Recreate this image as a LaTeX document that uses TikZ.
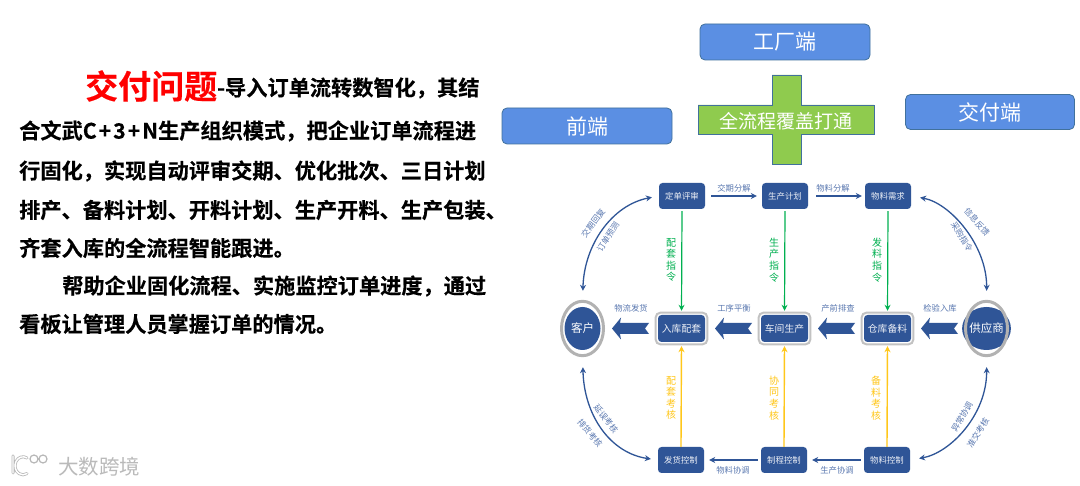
\documentclass[tikz,border=0pt]{standalone}
\usepackage{fontspec}
\setmainfont{Noto Sans CJK SC}
\newfontfamily\cjkb[FakeBold=0.35]{Noto Sans CJK SC Bold}
\usetikzlibrary{arrows.meta,shapes.geometric}
\definecolor{navy}{HTML}{2F5597}
\definecolor{topblue}{HTML}{5B8FE3}
\definecolor{topedge}{HTML}{41719C}
\definecolor{crossg}{HTML}{8FCB4E}
\definecolor{labblue}{HTML}{5A78B0}
\definecolor{ggreen}{HTML}{00B050}
\definecolor{yyellow}{HTML}{FFC71A}
\tikzset{
  para/.style={anchor=west,inner sep=0pt,font=\cjkb\fontsize{21.2}{21.2}\selectfont,text=black},
  topbox/.style={draw=topedge,line width=.8pt,fill=topblue,rounded corners=5pt,text=white,font=\fontsize{21}{21}\selectfont,inner sep=0pt},
  stepbox/.style={fill=navy,rounded corners=3.5pt,minimum width=46pt,minimum height=26pt,inner sep=0pt,text=white!92!navy,font=\fontsize{8.4}{8.4}\selectfont},
  framed/.style={stepbox,minimum width=47pt,minimum height=27pt,font=\fontsize{9.8}{9.8}\selectfont},
  frameline/.style={draw=black!24,line width=2pt,rounded corners=5pt},
  endcirc/.style={ellipse,fill=navy,minimum width=36pt,minimum height=43pt,inner sep=0pt,text=white,font=\fontsize{11.5}{11.5}\selectfont},
  ringline/.style={draw=black!30,line width=3pt},
  flow/.style={navy,line width=1.3pt,-{Stealth[length=6pt,width=6pt]}},
  curve/.style={navy,line width=1.3pt,{Stealth[length=6pt,width=6pt]}-{Stealth[length=6pt,width=6pt]}},
  grn/.style={ggreen,line width=1.2pt,-{Stealth[length=6pt,width=6pt]}},
  ylw/.style={yyellow,line width=1.4pt,-{Stealth[length=6pt,width=6pt]}},
  lab/.style={inner sep=0pt,text=labblue,font=\fontsize{8.3}{8.3}\selectfont},
  vlab/.style={inner sep=0pt,align=center,font=\fontsize{10}{11.6}\selectfont},
  blockarr/.style={fill=navy,draw=none},
}
\newcommand{\blockat}[2]{\fill[blockarr] (#1,#2) -- ++(9,-11) -- ++(-1,5.5) -- ++(29,0) -- ++(-4,5.5) -- ++(4,5.5) -- ++(-29,0) -- ++(1,5.5) -- cycle;}
\newcommand{\frameit}[1]{\draw[frameline] ([shift={(-2.2,-2.2)}]#1.north west) rectangle ([shift={(2.2,2.2)}]#1.south east);}
\newcommand{\ringit}[1]{\draw[ringline] (#1) ellipse [x radius=21,y radius=27.2];}
\begin{document}
\begin{tikzpicture}[x=1pt,y=-1pt]
\useasboundingbox (0,0) rectangle (1080,486);
\fill[white] (0,0) rectangle (1080,486);
% left text
\node[para,font=\cjkb\fontsize{33}{33}\selectfont,text=red] (t0) at (85,86) {交付问题};
\node[para] (t1) at (217,88) {-导入订单流转数智化，其结};
\node[para] (t2) at (19,131) {合文武C\kern2pt+\kern2pt3\kern2pt+\kern2pt N生产组织模式，把企业订单流程进};
\node[para] (t3) at (19,171) {行固化，实现自动评审交期、优化批次、三日计划};
\node[para] (t4) at (19,210) {排产、备料计划、开料计划、生产开料、生产包装、};
\node[para] (t5) at (19,248) {齐套入库的全流程智能跟进。};
\node[para] (t6) at (62,286) {帮助企业固化流程、实施监控订单进度，通过};
\node[para] (t7) at (19,324) {看板让管理人员掌握订单的情况。};
% watermark
\node[inner sep=0pt,text=black!27,font=\fontsize{20.5}{20.5}\selectfont] (wm) at (99,467) {大数跨境};
\draw[white,double=white,draw=black!28,line width=.8pt,double distance=1.4pt,line cap=round] (13,456) -- (13,473) (27,458) arc (60:300:8pt and 9pt);
\draw[black!28,line width=1.2pt] (34,459) circle (4pt) (43,459) circle (4pt);
% top boxes
\node[topbox,minimum width=170pt,minimum height=36pt] (gc) at (785,42) {工厂端};
\node[topbox,minimum width=170pt,minimum height=36pt] (qd) at (587,126) {前端};
\node[topbox,minimum width=169pt,minimum height=35pt] (jf) at (990,112) {交付端};
\draw[draw=topedge,line width=.9pt,fill=crossg] (772,75) -- (801,75) -- (801,105) -- (874,105) -- (874,134) -- (801,134) -- (801,164) -- (772,164) -- (772,134) -- (698,134) -- (698,105) -- (772,105) -- cycle;
\node[inner sep=0pt,text=white,font=\fontsize{19}{19}\selectfont] (qlc) at (786,121) {全流程覆盖打通};
% step nodes
\node[stepbox] (a1) at (682,196) {定单评审};
\node[stepbox] (a2) at (785,196) {生产计划};
\node[stepbox] (a3) at (888,196) {物料需求};
\node[framed] (b1) at (681.5,328.5) {入库配套};
\node[framed] (b2) at (784.5,328.5) {车间生产};
\node[framed] (b3) at (887.5,328.5) {仓库备料};
\node[stepbox] (c1) at (681,460) {发货控制};
\node[stepbox] (c2) at (784,460) {制程控制};
\node[stepbox] (c3) at (887,460) {物料控制};
\node[endcirc] (kh) at (582.5,328.5) {客户};
\node[endcirc] (gys) at (986.5,328.5) {供应商};
\frameit{b1}\frameit{b2}\frameit{b3}
\ringit{kh}\ringit{gys}
% block arrows
\blockat{612}{328.5}
\blockat{715}{328.5}
\blockat{818}{328.5}
\blockat{921}{328.5}
% flow
\draw[flow,shorten <=6pt,shorten >=5pt] (a1.east) -- (a2.west);
\draw[flow,shorten <=8pt,shorten >=3pt] (a2.east) -- (a3.west);
\draw[flow,shorten <=3pt,shorten >=5pt] (c2.west) -- (c1.east);
\draw[flow,shorten <=3pt,shorten >=5pt] (c3.west) -- (c2.east);
\draw[grn,shorten <=2pt,shorten >=4pt] (a1.south) -- (b1.north);
\draw[grn,shorten <=2pt,shorten >=4pt] (a2.south) -- (b2.north);
\draw[grn,shorten <=2pt,shorten >=4pt] (a3.south) -- (b3.north);
\draw[ylw,shorten <=0pt,shorten >=4pt] (c1.north) -- (b1.south);
\draw[ylw,shorten <=0pt,shorten >=4pt] (c2.north) -- (b2.south);
\draw[ylw,shorten <=0pt,shorten >=4pt] (c3.north) -- (b3.south);
% curves
\draw[curve,shorten <=16pt,shorten >=7pt] (kh.north) .. controls (584,245) and (612,205) .. (a1.west);
\draw[curve,shorten <=9pt,shorten >=16pt] (a3.east) .. controls (950,203) and (987,245) .. (gys.north);
\draw[curve,shorten <=17pt,shorten >=7pt] (kh.south) .. controls (584,415) and (610,453) .. (c1.west);
\draw[curve,shorten <=17pt,shorten >=9pt] (gys.south) .. controls (987,415) and (950,453) .. (c3.east);
% labels
\node[lab] (l1) at (734,188) {交期分解};
\node[lab] (l2) at (833,188) {物料分解};
\node[lab] (l3) at (631,308) {物流发货};
\node[lab] (l4) at (734,308) {工序平衡};
\node[lab] (l5) at (838,308) {产前排查};
\node[lab] (l6) at (940,308) {检验入库};
\node[lab] (l7) at (733,470) {物料协调};
\node[lab] (l8) at (837,470) {生产协调};
\node[lab,rotate=53] (r1) at (593,223) {交期回复};
\node[lab,rotate=57] (r2) at (608,237) {订单预测};
\node[lab,rotate=-48] (r3) at (977,222) {信息反馈};
\node[lab,rotate=-58] (r4) at (962,237) {采购指令};
\node[lab,rotate=-52] (r5) at (606,419) {延误考核};
\node[lab,rotate=-50] (r6) at (590,433) {排货考核};
\node[lab,rotate=60] (r7) at (962,417) {异常协调};
\node[lab,rotate=58] (r8) at (978,433) {准交考核};
\node[vlab,text=ggreen] (g1) at (671,260) {配\\套\\指\\令};
\node[vlab,text=ggreen] (g2) at (774,260) {生\\产\\指\\令};
\node[vlab,text=ggreen] (g3) at (877,260) {发\\料\\指\\令};
\node[vlab,text=yyellow] (y1) at (671,398) {配\\套\\考\\核};
\node[vlab,text=yyellow] (y2) at (774,398) {协\\同\\考\\核};
\node[vlab,text=yyellow] (y3) at (876,398) {备\\料\\考\\核};
\end{tikzpicture}
\end{document}
